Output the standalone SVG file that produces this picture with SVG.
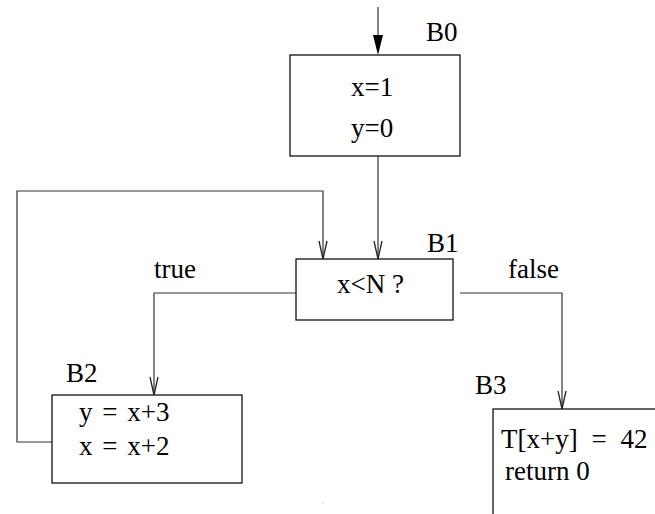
<svg xmlns="http://www.w3.org/2000/svg" width="655" height="514" viewBox="0 0 655 514">
<defs>
<style>
.box{fill:#fff;stroke:#111;stroke-width:1.3}
.t{font-family:"Liberation Serif","Times New Roman",serif;font-size:27px;fill:#000}
.c{fill:none;stroke:#333;stroke-width:1.2}
</style>
<marker id="open" markerWidth="22" markerHeight="12" refX="19" refY="5" orient="auto" markerUnits="userSpaceOnUse">
<path d="M1,1 L19,5 L1,9" fill="none" stroke="#222" stroke-width="1.3"/>
</marker>
</defs>
<rect width="655" height="514" fill="#fff"/>
<g id="connectors">
<line class="c" x1="378" y1="7" x2="378" y2="40"/>
<polygon points="373,35 383,35 378,55" fill="#000"/>
<path class="c" d="M378,156 L378,259" marker-end="url(#open)"/>
<path class="c" d="M52,442 L17,442 L17,191 L323,191 L323,259" marker-end="url(#open)"/>
<path class="c" d="M296,293 L154,293 L154,395" marker-end="url(#open)"/>
<path class="c" d="M460,293 L562,293 L562,409" marker-end="url(#open)"/>
<text class="t" x="154" y="278">true</text>
<text class="t" x="508" y="278">false</text>
</g>
<g id="B0">
<rect class="box" x="290" y="55" width="170" height="101"/>
<text class="t" x="426" y="41">B0</text>
<text class="t" x="351" y="96">x=1</text>
<text class="t" x="351" y="137">y=0</text>
</g>
<g id="B1">
<rect class="box" x="296" y="259" width="157" height="61"/>
<text class="t" x="427" y="252">B1</text>
<text class="t" x="337" y="293">x&lt;N ?</text>
</g>
<g id="B2">
<rect class="box" x="52" y="395" width="190" height="88"/>
<text class="t" x="66" y="382">B2</text>
<text class="t" x="79" y="421" word-spacing="3">y = x+3</text>
<text class="t" x="79" y="455" word-spacing="3">x = x+2</text>
</g>
<g id="B3">
<rect class="box" x="493" y="409" width="200" height="140"/>
<text class="t" x="475" y="394">B3</text>
<text class="t" x="501" y="448" word-spacing="7">T[x+y] = 42</text>
<text class="t" x="505" y="480">return 0</text>
</g>
<rect x="322.5" y="502.5" width="1" height="1" fill="#aaa"/>
</svg>
